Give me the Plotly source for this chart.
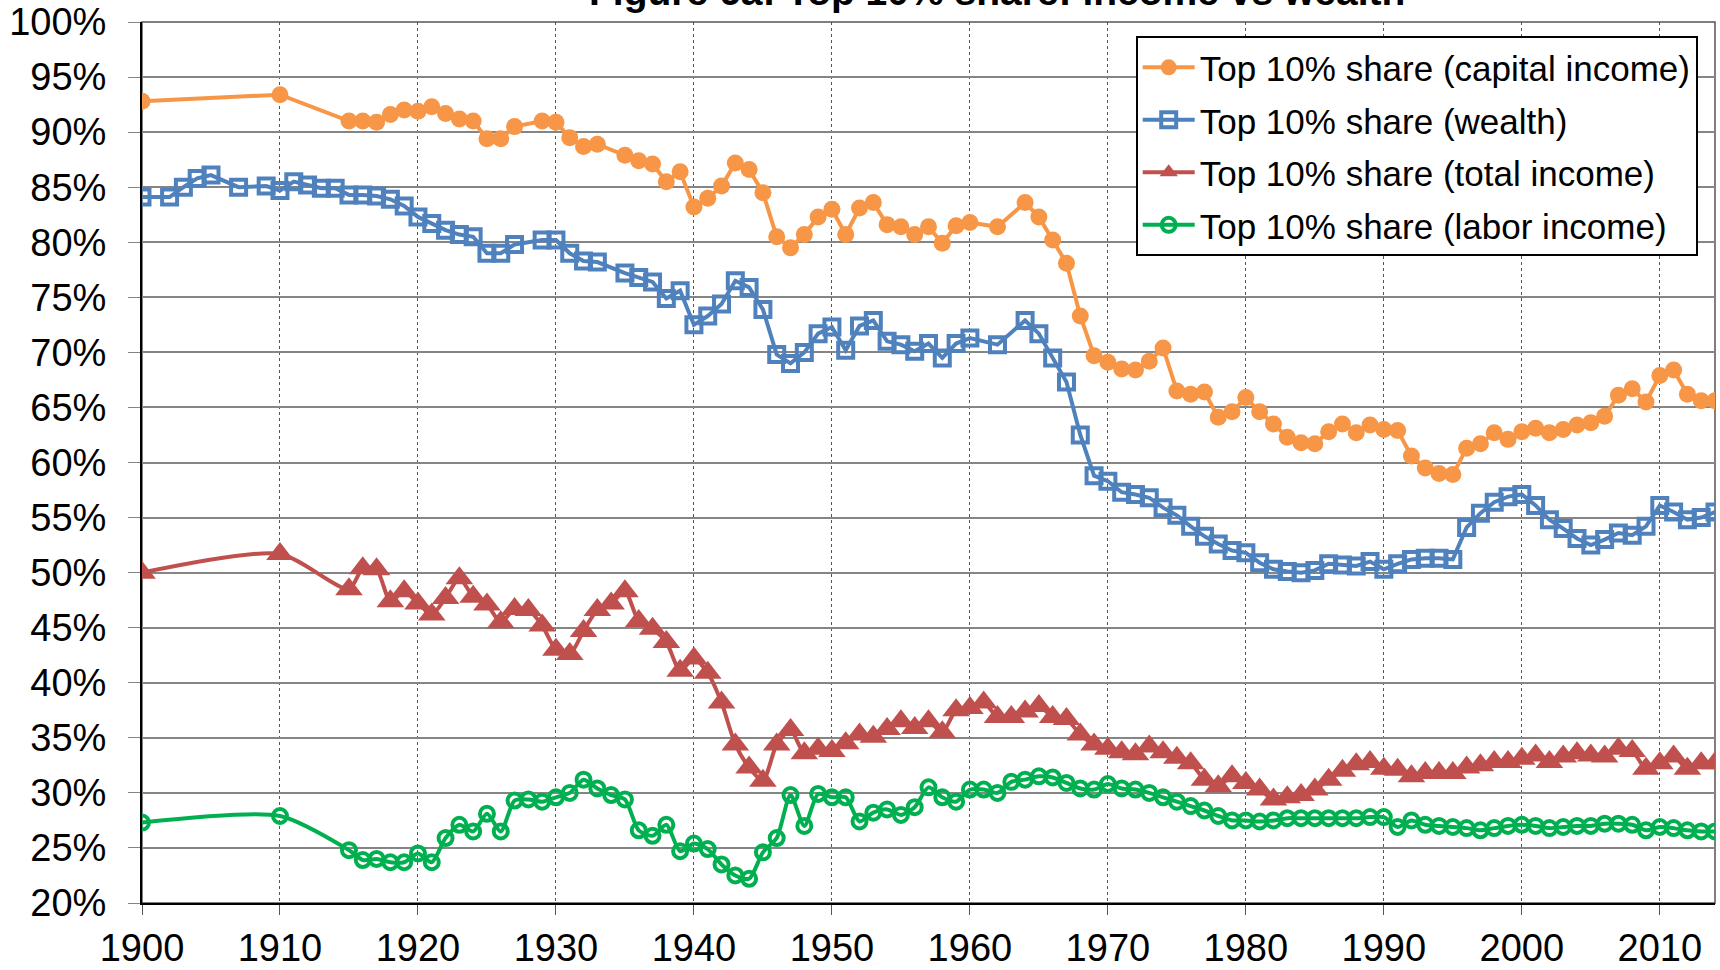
"""Top 10% share: capital income, wealth, total income and labor income."""

import plotly.graph_objects as go


# --- data (percent) -------------------------------------------------------
CAPITAL_YEARS = (
    [1900, 1910] + list(range(1915, 1928)) + list(range(1929, 1934))
    + list(range(1935, 1961)) + [1962] + list(range(1964, 2015))
)
CAPITAL_SHARE = [
    92.8, 93.4,
    91.0, 91.0, 90.9, 91.6, 92.0, 91.9, 92.3, 91.7, 91.2, 91.0, 89.4, 89.4, 90.5,
    91.0, 90.9, 89.5, 88.7, 88.9,
    87.9, 87.4, 87.1, 85.5, 86.4, 83.2, 84.0, 85.1, 87.2, 86.6, 84.5, 80.5, 79.5,
    80.7, 82.3, 83.0, 80.7, 83.1, 83.6, 81.6, 81.4, 80.7, 81.4, 79.9, 81.5, 81.8,
    81.4,
    83.6, 82.3, 80.2, 78.1, 73.3, 69.7, 69.1, 68.5, 68.4, 69.2, 70.4, 66.5, 66.2,
    66.4, 64.1, 64.6, 65.9, 64.6, 63.5, 62.3, 61.8, 61.7, 62.8, 63.5, 62.7, 63.4,
    63.0, 62.9, 60.6, 59.5, 59.0, 58.9, 61.3, 61.7, 62.7, 62.1, 62.8, 63.1, 62.7,
    63.0, 63.4, 63.6, 64.2, 66.1, 66.7, 65.5, 67.9, 68.4, 66.2, 65.6, 65.6,
]

WEALTH_YEARS = (
    [1900, 1902, 1903, 1904, 1905, 1907, 1909] + list(range(1910, 1928))
    + list(range(1929, 1934)) + list(range(1935, 1961)) + [1962]
    + list(range(1964, 2015))
)
WEALTH_SHARE = [
    84.1, 84.1, 85.0, 85.8, 86.1, 85.0, 85.1,
    84.7, 85.5, 85.2, 84.9, 84.9, 84.3, 84.3, 84.2, 83.9, 83.3, 82.3, 81.7, 81.1,
    80.7, 80.5, 79.0, 79.0, 79.8,
    80.2, 80.2, 79.0, 78.3, 78.2,
    77.2, 76.8, 76.4, 74.9, 75.6, 72.5, 73.3, 74.4, 76.5, 75.9, 73.9, 69.8, 69.0,
    70.0, 71.7, 72.3, 70.2, 72.4, 72.9, 71.0, 70.7, 70.1, 70.8, 69.5, 70.8, 71.3,
    70.7,
    72.9, 71.7, 69.5, 67.3, 62.5, 58.8, 58.3, 57.3, 57.1, 56.8, 55.9, 55.2, 54.2,
    53.3, 52.6, 52.0, 51.8, 50.9, 50.3, 50.1, 50.0, 50.2, 50.8, 50.7, 50.6, 51.0,
    50.3, 50.8, 51.2, 51.3, 51.3, 51.2, 54.1, 55.4, 56.4, 56.9, 57.1, 56.1, 54.8,
    54.0, 53.1, 52.5, 53.0, 53.6, 53.4, 54.2, 56.1, 55.5, 54.8, 55.0, 55.5,
]

INCOME_YEARS = [1900, 1910] + list(range(1915, 2015))
TOTAL_SHARE = [
    50.0, 51.7,
    48.5, 50.4, 50.3, 47.4, 48.3, 47.2, 46.2, 47.7, 49.5, 47.8, 47.1, 45.5, 46.7,
    46.6, 45.2, 43.0, 42.6, 44.7, 46.6, 47.2, 48.3, 45.6, 44.9, 43.7, 41.1, 42.2,
    40.9, 38.2, 34.4, 32.3, 31.1, 34.4, 35.7, 33.6, 34.0, 33.8, 34.5, 35.3, 35.1,
    35.8, 36.5, 35.9, 36.5, 35.5, 37.5, 37.7, 38.2, 36.9, 36.9, 37.4, 37.9, 36.9,
    36.7, 35.3, 34.4, 34.0, 33.7, 33.5, 34.2, 33.7, 33.2, 32.7, 31.2, 30.6, 31.5,
    30.9, 30.3, 29.4, 29.6, 29.8, 30.3, 31.2, 32.0, 32.6, 32.8, 32.2, 32.1, 31.5,
    31.8, 31.8, 31.8, 32.3, 32.5, 32.8, 32.8, 33.1, 33.4, 32.8, 33.3, 33.6, 33.4,
    33.3, 34.0, 33.8, 32.2, 32.7, 33.3, 32.2, 32.7, 32.7,
]
LABOR_SHARE = [
    27.3, 27.9,
    24.8, 23.9, 24.0, 23.7, 23.7, 24.5, 23.7, 25.9, 27.1, 26.5, 28.1, 26.5, 29.3,
    29.4, 29.2, 29.6, 30.0, 31.2, 30.4, 29.8, 29.4, 26.6, 26.1, 27.1, 24.7, 25.4,
    24.9, 23.5, 22.5, 22.2, 24.6, 25.9, 29.8, 27.0, 29.9, 29.6, 29.6, 27.4, 28.2,
    28.5, 28.0, 28.7, 30.5, 29.6, 29.2, 30.3, 30.3, 30.0, 31.0, 31.2, 31.5, 31.4,
    30.9, 30.4, 30.3, 30.8, 30.4, 30.3, 30.0, 29.6, 29.2, 28.8, 28.4, 27.9, 27.5,
    27.5, 27.4, 27.5, 27.7, 27.7, 27.7, 27.7, 27.7, 27.7, 27.8, 27.8, 26.9, 27.5,
    27.1, 27.0, 26.9, 26.8, 26.6, 26.8, 27.0, 27.1, 27.0, 26.8, 26.9, 27.0, 27.0,
    27.2, 27.2, 27.1, 26.6, 26.9, 26.8, 26.6, 26.5, 26.5,
]

Y_TICKS = [20, 25, 30, 35, 40, 45, 50, 55, 60, 65, 70, 75, 80, 85, 90, 95, 100]
Y_LABELS = [f"{v}%" for v in Y_TICKS]
X_TICKS = [1900, 1910, 1920, 1930, 1940, 1950, 1960, 1970, 1980, 1990, 2000, 2010]

FONT = "Liberation Sans, Arial, sans-serif"

SERIES = [
    dict(name="Top 10% share (capital income)", x=CAPITAL_YEARS, y=CAPITAL_SHARE,
         color="#F79646", symbol="circle", size=17, fill=True, shape="linear"),
    dict(name="Top 10% share (wealth)", x=WEALTH_YEARS, y=WEALTH_SHARE,
         color="#4F81BD", symbol="square", size=15, fill=False, shape="linear"),
    dict(name="Top 10% share (total income)", x=INCOME_YEARS, y=TOTAL_SHARE,
         color="#C0504D", symbol="triangle-up", size=24, fill=True, shape="spline"),
    dict(name="Top 10% share (labor income)", x=INCOME_YEARS, y=LABOR_SHARE,
         color="#00B050", symbol="circle", size=14, fill=False, shape="spline"),
]


def build_figure() -> go.Figure:
    fig = go.Figure()
    for i, s in enumerate(SERIES):
        marker = dict(symbol=s["symbol"], size=s["size"])
        if s["fill"]:
            marker.update(color=s["color"], line=dict(width=0))
        else:
            marker.update(color="rgba(0,0,0,0)", line=dict(color=s["color"], width=4))
        fig.add_trace(go.Scatter(
            x=s["x"], y=s["y"], name=s["name"], mode="lines+markers",
            line=dict(color=s["color"], width=4, shape=s["shape"], smoothing=0.7),
            marker=marker, legendgroup=f"g{i}",
        ))

    fig.update_layout(
        width=1720, height=970,
        margin=dict(l=142, r=5, t=22, b=67, autoexpand=False),
        paper_bgcolor="white", plot_bgcolor="white",
        font=dict(family=FONT, size=36, color="black"),
        showlegend=True,
        legend=dict(
            x=0.989, y=0.984, xanchor="right", yanchor="top",
            bgcolor="white", bordercolor="black", borderwidth=2,
            font=dict(size=35), itemwidth=52, tracegroupgap=4,
            traceorder="grouped",
        ),
        xaxis=dict(
            range=[1900, 2014], tickvals=X_TICKS, showgrid=True,
            gridcolor="#555555", griddash="dot", gridwidth=1,
            showline=True, linecolor="black", linewidth=2,
            ticks="outside", ticklen=10, tickcolor="#555555",
            ticklabelstandoff=0, zeroline=False, automargin=False,
            tickfont=dict(size=38),
        ),
        yaxis=dict(
            range=[20, 100], tickvals=Y_TICKS, ticktext=Y_LABELS,
            showgrid=True, gridcolor="#858585", gridwidth=1.5,
            showline=True, linecolor="black", linewidth=2,
            ticks="outside", ticklen=12, tickcolor="#858585",
            ticklabelstandoff=14, zeroline=False, automargin=False,
            tickfont=dict(size=38),
        ),
        annotations=[dict(
            text="<b>Figure 6a: Top 10% share: income vs wealth</b>",
            xref="paper", yref="paper", x=0.5435, y=1, yanchor="bottom",
            yshift=7, showarrow=False, font=dict(size=39, color="black"),
        )],
        shapes=[dict(
            type="rect", xref="paper", yref="paper", x0=0, x1=1, y0=0, y1=1,
            line=dict(color="#555555", width=1.5), layer="below",
        )],
    )
    return fig


fig = build_figure()
# drop the default page margin so the figure sits at the window's corner
fig.write_html(
    "out.html",
    config={"displayModeBar": False},
    post_script="document.body.style.margin = '0';",
)
